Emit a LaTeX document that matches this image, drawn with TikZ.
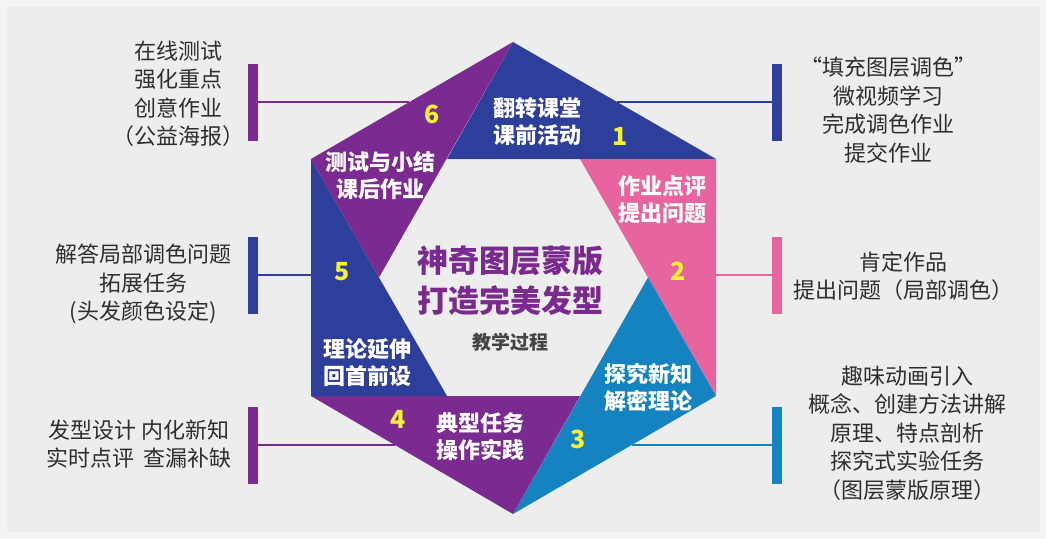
\documentclass[tikz,border=0pt]{standalone}
\usepackage{fontspec}
\newfontfamily\cjk{Noto Sans CJK SC}
\definecolor{bgout}{HTML}{F4F4F4}
\definecolor{bgin}{HTML}{EDEDED}
\definecolor{hblue}{HTML}{2D3F9B}
\definecolor{hpurple}{HTML}{7A2A90}
\definecolor{hpink}{HTML}{E8649E}
\definecolor{hcyan}{HTML}{1683C1}
\definecolor{hyellow}{HTML}{F5F032}
\definecolor{txtgray}{HTML}{2E2E2E}
\definecolor{subgray}{HTML}{444444}
\definecolor{titlepurple}{HTML}{7A2A8E}
\begin{document}
\begin{tikzpicture}[x=1pt,y=-1pt,
  sidetext/.style={font=\cjk\fontsize{22}{28.5}\selectfont, text=txtgray, align=center, inner sep=0pt},
  seglabel/.style={font=\cjk\bfseries\fontsize{22}{27}\selectfont, text=white, align=center, inner sep=0pt},
  numlabel/.style={font=\cjk\bfseries\fontsize{25}{25}\selectfont, text=hyellow, inner sep=0pt},
  bar/.style={rectangle, minimum width=10pt, minimum height=77pt, inner sep=0pt, draw=none},
  link/.style={line width=1.6pt}
]
\useasboundingbox (0,0) rectangle (1046,539);
\fill[bgout] (0,0) rectangle (1046,539);
\fill[bgin] (7,7) rectangle (1040,532);

% outer hexagon vertices
\coordinate (O0) at (513,42);
\coordinate (O1) at (716,159);
\coordinate (O2) at (716,396);
\coordinate (O3) at (513,514);
\coordinate (O4) at (311,396);
\coordinate (O5) at (311,159);
% inner hexagon vertices
\coordinate (a) at (447,159);
\coordinate (b) at (580,159);
\coordinate (c) at (648,277.5);
\coordinate (d) at (580,396);
\coordinate (e) at (447,396);
\coordinate (f) at (379,277.5);

% connector end points on the hexagon edges
\coordinate (eLT) at (409.4,102);
\coordinate (eLM) at (311,275);
\coordinate (eLB) at (394.9,445);
\coordinate (eRT) at (617.1,102);
\coordinate (eRM) at (716,275);
\coordinate (eRB) at (631.7,445);

% bars
\node[bar, fill=hpurple] (bLT) at (253,102) {};
\node[bar, fill=hblue]   (bLM) at (253,275) {};
\node[bar, fill=hpurple] (bLB) at (253,445) {};
\node[bar, fill=hblue]   (bRT) at (777,102) {};
\node[bar, fill=hpink]   (bRM) at (777,275) {};
\node[bar, fill=hcyan]   (bRB) at (777,445) {};

% connectors
\draw[link, hpurple] (bLT.east) -- (eLT);
\draw[link, hblue]   (bLM.east) -- (eLM);
\draw[link, hpurple] (bLB.east) -- (eLB);
\draw[link, hblue]   (bRT.west) -- (eRT);
\draw[link, hpink]   (bRM.west) -- (eRM);
\draw[link, hcyan]   (bRB.west) -- (eRB);

% hexagon segments
\fill[hblue]   (O0) -- (O1) -- (a) -- cycle;
\fill[hpink]   (O1) -- (O2) -- (b) -- cycle;
\fill[hcyan]   (O2) -- (O3) -- (c) -- cycle;
\fill[hpurple] (O3) -- (O4) -- (d) -- cycle;
\fill[hblue]   (O4) -- (O5) -- (e) -- cycle;
\fill[hpurple] (O5) -- (O0) -- (f) -- cycle;

% segment labels
\node[seglabel] (s1) at (537,122) {翻转课堂\\课前活动};
\node[seglabel] (s2) at (662,200) {作业点评\\提出问题};
\node[seglabel] (s3) at (648,388) {探究新知\\解密理论};
\node[seglabel] (s4) at (480,437) {典型任务\\操作实践};
\node[seglabel] (s5) at (367,363) {理论延伸\\回首前设};
\node[seglabel] (s6) at (380,176) {测试与小结\\课后作业};

\node[numlabel] (n1) at (620,136) {1};
\node[numlabel] (n2) at (678,271) {2};
\node[numlabel] (n3) at (578,439) {3};
\node[numlabel] (n4) at (398,419) {4};
\node[numlabel] (n5) at (342,272) {5};
\node[numlabel] (n6) at (432,114) {6};

% centre title
\node[font=\cjk\bfseries\fontsize{31}{40}\selectfont, text=titlepurple, align=center, inner sep=0pt] (title) at (510,281) {神奇图层蒙版\\打造完美发型};
\node[font=\cjk\bfseries\fontsize{19}{22}\selectfont, text=subgray, inner sep=0pt] (sub) at (510,342) {教学过程};

% side texts
\node[sidetext] (tLT) at (178,94) {在线测试\\强化重点\\创意作业\\（公益海报）};
\node[sidetext] (tLM) at (143,284) {解答局部调色问题\\拓展任务\\(头发颜色设定)};
\node[sidetext] (tLB) at (139,444) {发型设计 内化新知\\实时点评\ \ 查漏补缺};
\node[sidetext] (tRT) at (888,110) {“填充图层调色”\\微视频学习\\完成调色作业\\提交作业};
\node[sidetext] (tRM) at (903,276) {肯定作品\\提出问题（局部调色）};
\node[sidetext] (tRB) at (907,433) {趣味动画引入\\概念、创建方法讲解\\原理、特点剖析\\探究式实验任务\\（图层蒙版原理）};
\end{tikzpicture}
\end{document}
